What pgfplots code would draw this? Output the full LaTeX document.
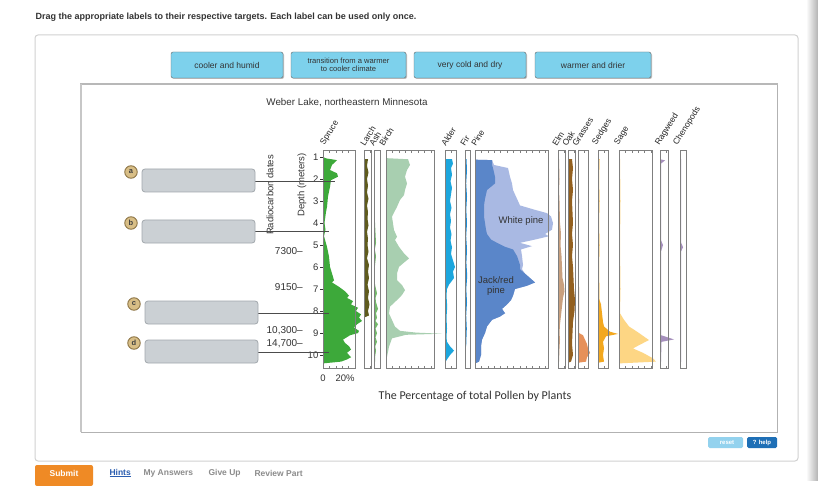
\documentclass[border=0pt]{standalone}
\usepackage{pgfplots}
\pgfplotsset{compat=1.18}
\usepackage{fontspec}
\setmainfont{Liberation Sans}
\newfontfamily\capfont{Carlito}

\newcommand\fs[1]{\fontsize{#1}{#1}\selectfont}

% pollen colours
\definecolor{spruce}{HTML}{3DA93A}
\definecolor{larch}{HTML}{5F5B1E}
\definecolor{ash}{HTML}{73B86A}
\definecolor{birch}{HTML}{A8CFB0}
\definecolor{alder}{HTML}{1CA6DD}
\definecolor{fir}{HTML}{1F8DD6}
\definecolor{jackpine}{HTML}{5A86C9}
\definecolor{whitepine}{HTML}{A9B9E3}
\definecolor{elm}{HTML}{C9A07E}
\definecolor{oak}{HTML}{93601F}
\definecolor{grass}{HTML}{E6915A}
\definecolor{sedge}{HTML}{F3A81F}
\definecolor{sage}{HTML}{FDD684}
\definecolor{ragweed}{HTML}{A58FBC}
% page colours
\definecolor{frame}{HTML}{7F7F7F}
\definecolor{btnblue}{HTML}{7DD1EC}
\definecolor{dropgray}{HTML}{CBD0D4}
\definecolor{dropedge}{HTML}{A2A8AD}
\definecolor{badge}{HTML}{D8BE86}
\definecolor{badgeedge}{HTML}{8D7546}
\definecolor{submit}{HTML}{EF8A25}
\definecolor{linkblue}{HTML}{2A5DB0}
\definecolor{resetblue}{HTML}{93D2EE}
\definecolor{helpblue}{HTML}{1E6FB6}
\definecolor{txt}{HTML}{333333}

\pgfplotsset{
  panel/.style={
    anchor=north west, x=1pt, y=22pt, y dir=reverse,
    xmin=0, ymin=0.68, ymax=10.6,
    clip=false, axis on top,
    axis line style={draw=frame, line width=0.8pt},
    tick align=inside, xtick distance=6.4, major tick length=2.5pt,
    xticklabels={}, ytick=\empty,
    tick style={draw=frame, line width=0.6pt},
  },
}
% panel placed with its top-left corner at page pixel (#1,150)
\newcommand\at[1]{at={(#1pt,-150pt)}}

\begin{document}
\begin{tikzpicture}
\begin{scope}[x=1pt, y=-1pt]
\path[use as bounding box, fill=white] (0,0) rectangle (818,480);
\shade[left color=white, right color=black!30] (806,0) rectangle (818,480);

% header and container
\node[anchor=west, font=\bfseries\fs{9}, text=txt] at (32,17)
  {Drag the appropriate labels to their respective targets. Each label can be used only once.};
\draw[black!18, line width=1pt, rounded corners=3pt] (35,35) rectangle (798,461);

% draggable labels
\foreach \xa/\xb/\sz/\lbl in {171/283/8.5/{cooler and humid},
  291/406/7.6/{transition from a warmer\\to cooler climate},
  414/526/8.5/{very cold and dry}, 535/651/8.5/{warmer and drier}}{
  \fill[black!25, rounded corners=2pt] (\xa+1,53) rectangle (\xb+1,79);
  \draw[fill=btnblue, draw=black!60, rounded corners=2pt] (\xa,52) rectangle (\xb,78);
  \node[font=\fs{\sz}, text=txt, align=center, inner sep=0] at ({(\xa+\xb)/2},65) {\lbl};
}

% figure frame
\draw[black!30, line width=1pt] (81,84) rectangle (777,432);
\draw[black!28, line width=2.6pt] (80,84) -- (778,84);
\draw[black!22, line width=2pt] (81,84) -- (81,432);

\node[font=\fs{9.8}, text=txt] at (347,103) {Weber Lake, northeastern Minnesota};
\end{scope}

% ---------- pollen panels ----------
% Spruce
\begin{axis}[panel, \at{323}, xmax=32]
\addplot[fill=spruce, draw=none] coordinates {
 (0,1.0) (3,1.06) (14,1.14) (9,1.36) (7,1.59) (14,1.74) (15,1.89) (8,2.05)
 (7,2.35) (5,2.8) (4,3.26) (3,3.5) (1.5,4.0) (2.5,4.3) (1,4.6) (4,5.08)
 (6,5.53) (7,5.99) (9,6.29) (11,6.6) (9,6.7) (16,6.9) (22,7.1) (26,7.3)
 (24,7.4) (30,7.55) (28,7.7) (35,7.85) (33,8.0) (38,8.15) (36,8.3) (39,8.45)
 (34,8.6) (31,8.75) (36,8.9) (35,9.0) (27,9.1) (20,9.3) (22,9.45) (26,9.6)
 (28,9.75) (24,9.9) (28,10.1) (24,10.2) (18,10.3) (0,10.38)};
\node[anchor=north, font=\fs{9.5}, text=txt] at (axis cs:0,10.75) {0};
\node[anchor=north, font=\fs{9.5}, text=txt, xshift=2pt] at (axis cs:20,10.75) {20\%};
\end{axis}
% depth scale
\begin{axis}[anchor=north west, \at{323}, x=1pt, y=22pt, y dir=reverse,
  xmin=0, xmax=32, ymin=0.68, ymax=10.6, hide x axis, axis y line*=left,
  axis line style={draw=none}, ytick={1,...,10}, tick align=outside,
  major tick length=3pt, tick style={draw=txt, line width=0.6pt},
  /pgf/number format/assume math mode=true,
  yticklabel style={font=\fs{9.5}, text=txt, inner sep=1.5pt}]
\end{axis}

% Larch
\begin{axis}[panel, \at{364}, xmax=7]
\addplot[fill=larch, draw=none] coordinates {
 (0,1.1) (4,1.1) (3,1.4) (4.5,1.7) (3,2.0) (4,2.3) (3,2.6) (4.5,2.9) (3,3.2)
 (4,3.5) (3.5,3.8) (4.5,4.1) (3,4.4) (4,4.7) (3.5,5.0) (4.5,5.3) (3,5.6)
 (5,5.9) (4,6.2) (5,6.5) (3.5,6.8) (5,7.1) (4,7.4) (5.5,7.7) (4,8.0) (5,8.2) (0,8.3)};
\end{axis}
% Ash
\begin{axis}[panel, \at{374}, xmax=6]
\addplot[fill=ash, draw=none] coordinates {
 (0,1.1) (0.6,1.1) (0.8,2) (0.6,3) (1,4) (2,4.9) (0.8,5.2) (2,5.5) (0.8,6)
 (1,6.8) (3,7.2) (1.5,7.4) (2,7.6) (4,7.9) (2,8.1) (3,8.3) (1.5,8.45) (4,8.6)
 (1.5,8.8) (3,9.0) (1.5,9.2) (3,9.4) (1.2,9.6) (2,9.8) (1,10.1) (1,10.3) (0,10.35)};
\end{axis}
% Birch
\begin{axis}[panel, \at{386}, xmax=48]
\addplot[fill=birch, draw=none] coordinates {
 (0,1.05) (22,1.1) (24,1.36) (21,1.59) (19,1.89) (21,2.2) (19,2.5) (18,2.73)
 (14,2.95) (11,3.26) (6,3.71) (7,4.02) (8,4.32) (11,4.62) (9,4.77) (13,5.08)
 (18,5.38) (23,5.61) (19,5.76) (13,5.99) (11,6.29) (11,6.59) (16,6.82)
 (19,7.05) (16,7.27) (11,7.5) (4,7.8) (3,8.11) (6,8.41) (9,8.71) (14,8.9)
 (30,8.98) (56,9.03) (20,9.08) (6,9.24) (3,9.62) (1,10.08) (0,10.38)};
\end{axis}
% Alder
\begin{axis}[panel, \at{445}, xmax=11]
\addplot[fill=alder, draw=none] coordinates {
 (0,1.1) (7,1.1) (8,1.3) (6,1.5) (7,1.8) (5.5,2.1) (7,2.4) (6,2.7) (5,3.0)
 (6.5,3.3) (5,3.6) (6,3.9) (5,4.2) (6.5,4.5) (5.5,4.8) (7,5.1) (6,5.4) (8,5.7)
 (10,6.0) (8,6.2) (9,6.5) (4,6.8) (2,7.0) (1.5,7.3) (2.2,7.8) (1.5,8.3)
 (2,8.8) (1.5,9.2) (2,9.4) (5,9.6) (9,9.8) (5,10.0) (2,10.2) (0,10.35)};
\end{axis}
% Fir
\begin{axis}[panel, \at{465}, xmax=5]
\addplot[fill=fir, draw=none] coordinates {
 (0,1.1) (1.5,1.1) (2,1.6) (1.2,2.2) (2,2.8) (1.3,3.4) (2,4.0) (1.2,4.6)
 (2,5.2) (1.4,5.8) (2.2,6.4) (1.3,7.0) (2,7.6) (1.2,8.2) (1.8,8.8) (1.3,9.4)
 (1.2,9.6) (0,9.65)};
\end{axis}
% Pine: total (white pine outside) and jack/red pine inside
\begin{axis}[panel, \at{475}, xmax=73]
\addplot[fill=whitepine, draw=none] coordinates {
 (0,1.12) (17,1.14) (19,1.36) (33,1.5) (35,1.9) (37,2.2) (38,2.5) (42,2.9)
 (45,3.2) (60,3.4) (72,3.55) (76,3.7) (78,4.0) (77,4.3) (70,4.5) (74,4.6)
 (60,4.75) (45,4.9) (57,5.05) (46,5.2) (47,5.5) (48,5.9) (47,6.1) (50,6.3)
 (55,6.5) (60,6.7) (52,6.85) (40,7.0) (38,7.3) (36,7.5) (32,7.7) (27,7.9)
 (30,8.1) (25,8.25) (17,8.4) (12,8.7) (10,9.0) (7,9.3) (6,9.6) (6,10.0)
 (4,10.3) (0,10.38)};
\addplot[fill=jackpine, draw=none] coordinates {
 (0,1.12) (17,1.14) (17,1.36) (18,1.5) (20,1.9) (20,2.2) (12,2.5) (10,2.9)
 (9,3.2) (9,3.7) (10,4.0) (11,4.3) (12,4.5) (16,4.75) (22,4.9) (30,5.08)
 (38,5.2) (42,5.5) (45,5.9) (45,6.1) (50,6.3)
 (55,6.5) (60,6.7) (52,6.85) (40,7.0) (38,7.3) (36,7.5) (32,7.7) (27,7.9)
 (30,8.1) (25,8.25) (17,8.4) (12,8.7) (10,9.0) (7,9.3) (6,9.6) (6,10.0)
 (4,10.3) (0,10.38)};
\node[font=\fs{9.5}, text=txt] at (axis cs:46,3.9) {White pine};
\node[font=\fs{9.5}, text=txt, align=center, inner sep=0] at (axis cs:21,6.86) {Jack/red\\pine};
\end{axis}
% Elm
\begin{axis}[panel, \at{558}, xmax=7]
\addplot[fill=elm, draw=none] coordinates {
 (0,1.1) (1,1.1) (1.5,2) (1,2.5) (1.5,3) (2,4) (3,4.5) (2.5,5) (3.5,5.5) (4,6)
 (4.5,6.5) (6,6.8) (6.5,7.1) (5,7.4) (4,7.8) (3,8.2) (2,8.6) (1.5,9.0)
 (2,9.3) (1.5,9.7) (1,10.3) (0,10.35)};
\end{axis}
% Oak
\begin{axis}[panel, \at{568}, xmax=7]
\addplot[fill=oak, draw=none] coordinates {
 (0,1.1) (4,1.1) (5,1.5) (4,2) (5,2.5) (4,3) (4.5,3.5) (5,4) (4,4.5) (5,5)
 (4,5.5) (5,6) (5.5,6.5) (6,7) (7,7.5) (6.5,8) (5,8.5) (4.5,9) (4,9.5) (5,10)
 (3,10.3) (0,10.35)};
\end{axis}
% Grasses
\begin{axis}[panel, \at{578}, xmax=10]
\addplot[fill=grass, draw=none] coordinates {
 (0,1.1) (0.8,1.1) (1,3) (0.8,5) (1,7) (1,9.0) (5,9.1) (7,9.3) (9,9.5)
 (10,9.7) (12,9.9) (9,10.1) (8,10.3) (0,10.35)};
\end{axis}
% Sedges
\begin{axis}[panel, \at{598}, xmax=10]
\addplot[fill=sedge, draw=none] coordinates {
 (0,1.1) (1.5,1.1) (1,2) (1.5,3) (1,4) (1.5,5) (1,6) (1.5,7.5) (3,7.7)
 (4,8.1) (5,8.5) (6,8.7) (12,8.94) (20,9.04) (8,9.15) (5,9.4) (6,9.7) (5,10)
 (6,10.3) (0,10.35)};
\end{axis}
% Sage
\begin{axis}[panel, \at{619}, xmax=33]
\addplot[fill=sage, draw=none] coordinates {
 (0,1.1) (1,1.1) (1.5,3) (1,5) (1.5,7) (1,8.1) (5,8.4) (10,8.7) (20,9.0)
 (30,9.32) (20,9.55) (14,9.7) (24,9.9) (34,10.15) (37,10.3) (0,10.38)};
\end{axis}
% Ragweed
\begin{axis}[panel, \at{660}, xmax=8]
\addplot[fill=ragweed, draw=none] coordinates {
 (0,1.1) (5,1.15) (1,1.3) (1,3) (1.2,4.8) (3,5.0) (1,5.3) (1,7) (1.2,9.1)
 (14,9.29) (1.5,9.4) (1,10.3) (0,10.35)};
\end{axis}
% Chenopods
\begin{axis}[panel, \at{680}, xmax=6]
\addplot[fill=ragweed, draw=none] coordinates {
 (0,1.1) (1,1.1) (1,3) (1.2,4.9) (3,5.1) (1,5.3) (1,8) (1.2,10.3) (0,10.35)};
\end{axis}

\begin{scope}[x=1pt, y=-1pt]
% taxon names
\foreach \x/\name in {326/Spruce, 365/Larch, 374/Ash, 384/Birch, 446/Alder,
  465/Fir, 476/Pine, 557/Elm, 567/Oak, 577/Grasses, 598/Sedges, 620/Sage,
  661/Ragweed, 679/Chenopods}{
  \node[rotate=58, anchor=south west, inner sep=0, font=\fs{8.5}, text=black!85]
    at (\x,147) {\name};
}

% depth axis titles and dates
\node[rotate=90, font=\fs{9.5}, text=txt] at (302,185) {Depth (meters)};
\node[rotate=90, font=\fs{9.5}, text=txt] at (270,195) {Radiocarbon dates};
\foreach \y/\d in {251/7300--, 287/9150--, 331/{10,300--}, 344/{14,700--}}{
  \node[anchor=east, font=\fs{10}, text=txt, inner sep=0] at (303,\y) {\d};
}

% drop targets
\foreach \xa/\ya/\yl/\lt in {142/169/181/a, 142/220/231/b, 145/301/313/c, 145/340/352/d}{
  \draw[black!70, line width=0.9pt] (\xa+100,\yl) -- (329,\yl);
  \draw[fill=dropgray, draw=dropedge, line width=0.8pt, rounded corners=3pt]
    (\xa,\ya) rectangle (\xa+113,\ya+23);
  \node[circle, fill=badge, draw=badgeedge, line width=0.9pt, minimum size=12.5pt,
    inner sep=0, font=\bfseries\fs{7.5}, text=black!75] at (\xa-11,\ya+3) {\lt};
}
\draw[black!70, line width=0.9pt] (320,181) -- (335,181);

\node[font=\capfont\fs{12}, text=txt] at (475,396) {The Percentage of total Pollen by Plants};

% reset / help
\fill[resetblue, rounded corners=1.5pt] (708,437) rectangle (743,448);
\node[font=\bfseries\fs{6}, text=white] at (727,442.5) {reset};
\fill[helpblue, rounded corners=1.5pt] (747,437) rectangle (777,448);
\node[font=\bfseries\fs{6}, text=white] at (762,442.5) {? help};

% footer
\fill[submit, rounded corners=2pt] (35,465) rectangle (93,486);
\node[font=\bfseries\fs{8.5}, text=white] at (64,473) {Submit};
\node[anchor=west, font=\bfseries\fs{8.5}, text=linkblue] at (106,473) {\underline{Hints}};
\node[anchor=west, font=\bfseries\fs{8.5}, text=black!45] at (140,473) {My Answers};
\node[anchor=west, font=\bfseries\fs{8.5}, text=black!45] at (205,473) {Give Up};
\node[anchor=west, font=\bfseries\fs{8.5}, text=black!45] at (251,473) {Review Part};
\end{scope}
\end{tikzpicture}
\end{document}
